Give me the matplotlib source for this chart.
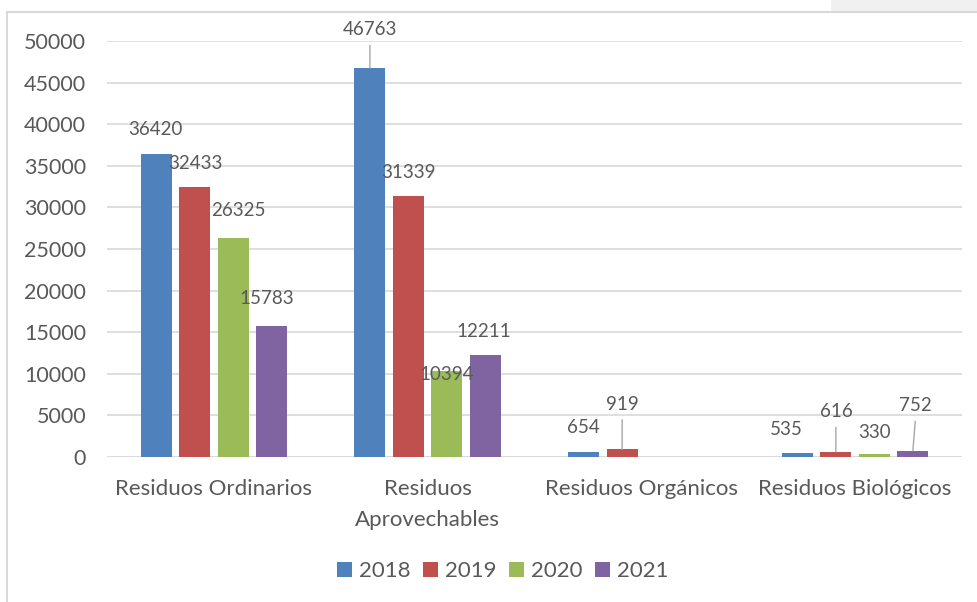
import matplotlib.pyplot as plt
import numpy as np
from matplotlib.patches import Rectangle

categorias = ["Residuos Ordinarios", "Residuos\nAprovechables", "Residuos Orgánicos", "Residuos Biológicos"]
anios = ["2018", "2019", "2020", "2021"]
v2018 = [36420, 46763, 654, 535]
v2019 = [32433, 31339, 919, 616]
v2020 = [26325, 10394, 0, 330]
v2021 = [15783, 12211, 0, 752]

colores = ["#4F81BD", "#C0504D", "#9BBB59", "#8064A2"]
gris_txt = "#595959"

# desplazamiento de etiquetas (px): (dx, dy, linea guia)
offs = {
    (0, 0): (-1, 24, False), (0, 1): (1, 24, False), (0, 2): (5, 27, False), (0, 3): (-5, 27, False),
    (1, 0): (0, 38, True), (1, 1): (0, 24, False), (1, 2): (0, -4, False), (1, 3): (-2, 24, False),
    (2, 0): (0, 24, False), (2, 1): (0, 45, True),
    (3, 0): (-11, 23, False), (3, 1): (0, 40, True), (3, 2): (0, 22, False), (3, 3): (3, 45, True),
}

plt.rcParams['font.family'] = ['Lato', 'DejaVu Sans']

fig = plt.figure(figsize=(9.78, 6.02), dpi=100)
ax = fig.add_axes([107 / 978, 1 - 457 / 602, 855 / 978, 416 / 602])

x = np.arange(len(categorias))
ancho = 0.145
paso = 0.18
series = [v2018, v2019, v2020, v2021]
px = 0.72  # px -> pt

for i, (vals, c, a) in enumerate(zip(series, colores, anios)):
    pos = x + (i - 1.5) * paso
    ax.bar(pos, vals, width=ancho, color=c, label=a, zorder=3)
    for j, v in enumerate(vals):
        if (j, i) not in offs:
            continue
        dx, dy, guia = offs[(j, i)]
        kw = {}
        if guia:
            kw['arrowprops'] = dict(arrowstyle='-', color='#a6a6a6', lw=1,
                                    shrinkA=3, shrinkB=0, relpos=(0.5, 0))
        ax.annotate(str(v), xy=(pos[j], v), xytext=(dx * px, dy * px),
                    textcoords='offset points', ha='center', va='center',
                    fontsize=13.5, color=gris_txt, zorder=4, **kw)

ax.set_ylim(0, 50000)
ax.set_xlim(-0.5, 3.5)
ax.set_yticks(range(0, 50001, 5000))
ax.set_xticks(x)
ax.set_xticklabels(categorias, linespacing=1.7, fontsize=16)
ax.tick_params(axis='both', length=0, colors=gris_txt)
ax.tick_params(axis='y', pad=15, labelsize=15.5)
ax.tick_params(axis='x', pad=16)
ax.grid(axis='y', color='#d9d9d9', lw=1.2, zorder=0)
for s in ax.spines.values():
    s.set_visible(False)
ax.axhline(0, color='#d9d9d9', lw=1.2, zorder=2)

ax.legend(loc='center', bbox_to_anchor=(503 / 978, 1 - 571 / 602), bbox_transform=fig.transFigure,
          ncol=4, frameon=False, fontsize=16, labelcolor=gris_txt,
          handlelength=0.65, handleheight=0.65, handletextpad=0.35, columnspacing=0.55)

# marco del grafico
fig.add_artist(plt.Line2D([7 / 978, 7 / 978], [0, 1 - 12 / 602], transform=fig.transFigure, color='#d9d9d9', lw=1.5))
fig.add_artist(plt.Line2D([7 / 978, 1], [1 - 12 / 602, 1 - 12 / 602], transform=fig.transFigure, color='#d9d9d9', lw=1.5))
fig.add_artist(Rectangle((831 / 978, 1 - 11 / 602), 147 / 978, 11 / 602, transform=fig.transFigure,
                         facecolor='#f0f0f0', edgecolor='none'))

fig.savefig("out.png", dpi=100)
